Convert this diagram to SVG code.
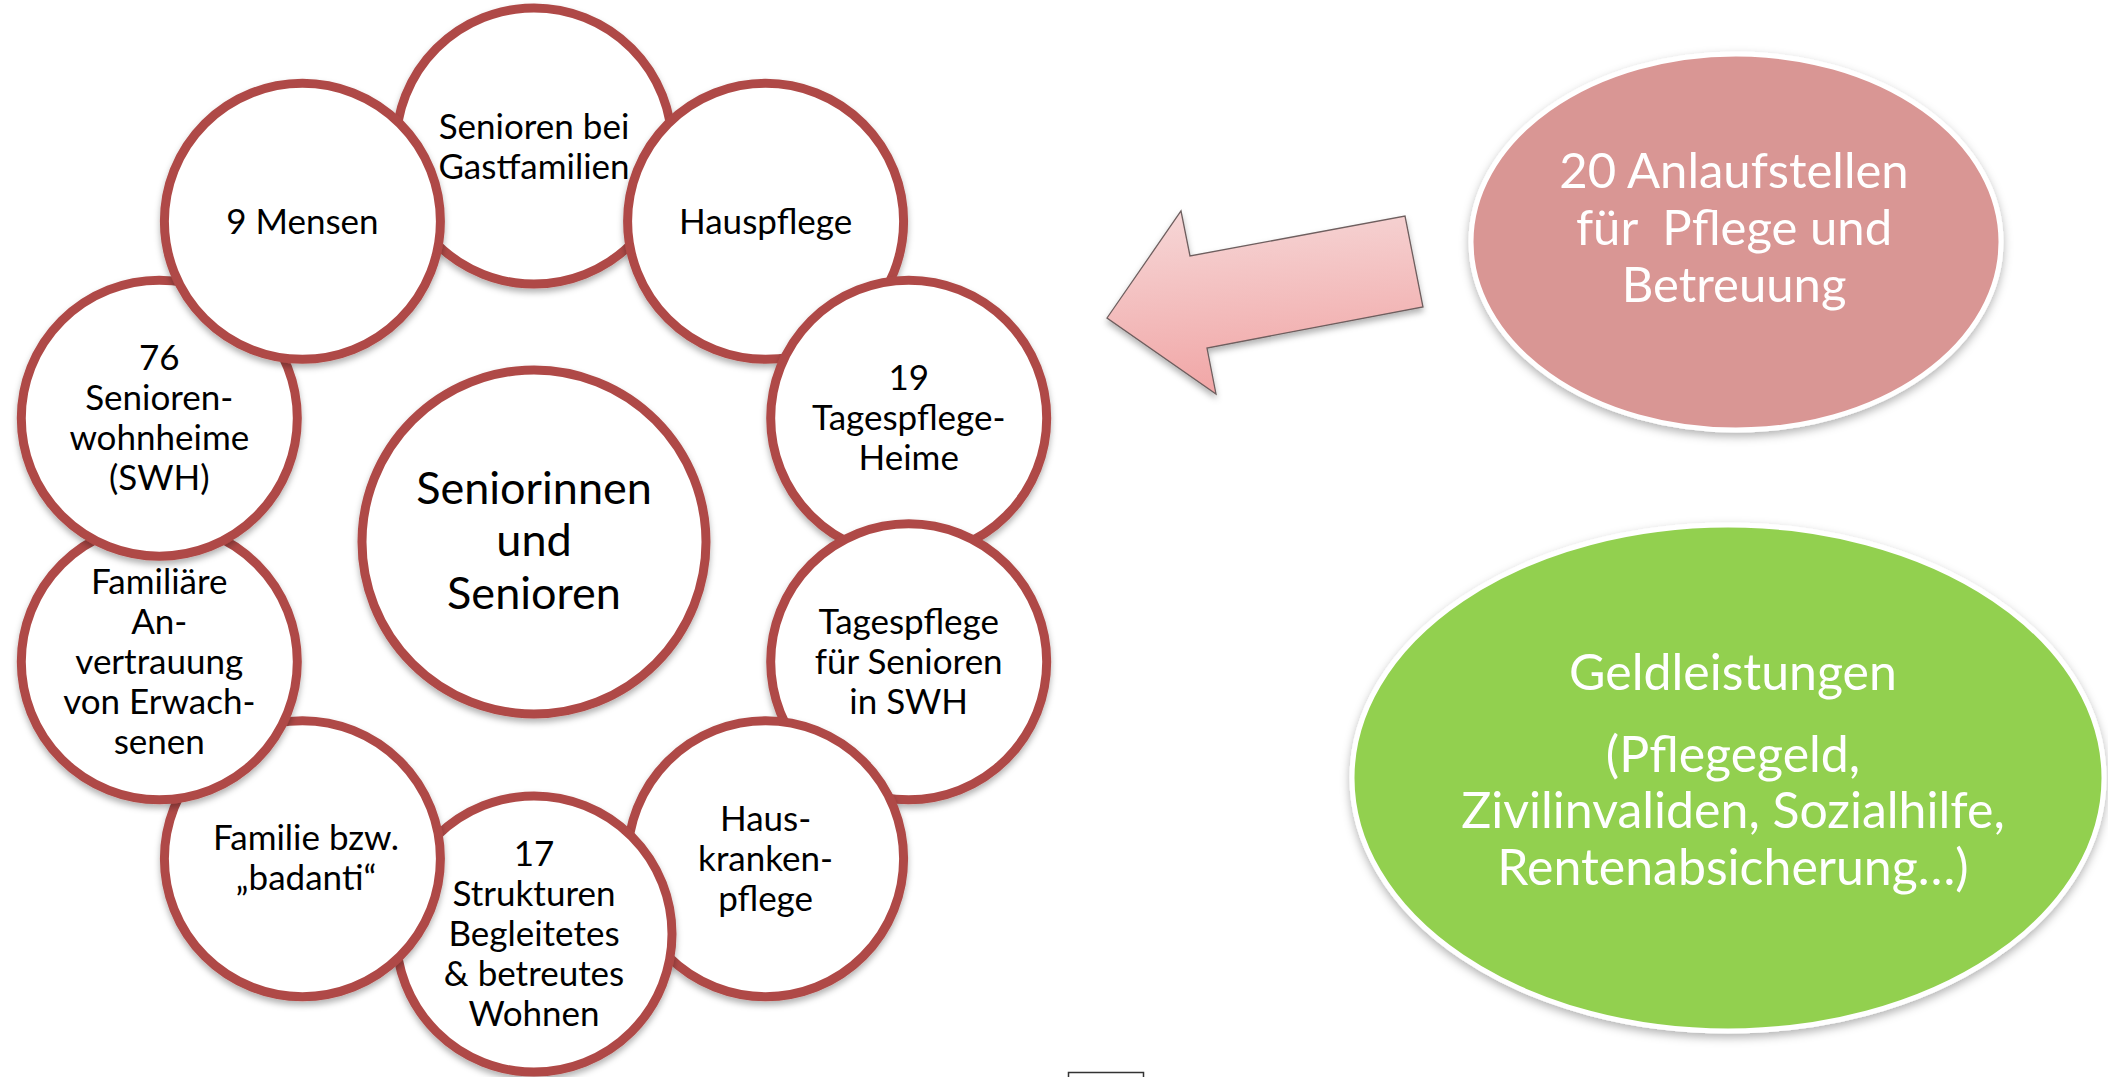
<svg xmlns="http://www.w3.org/2000/svg" width="2108" height="1077" viewBox="0 0 2108 1077">
<defs>
<style>
.ring{fill:#ffffff;stroke:#AF4A47;stroke-width:9;filter:url(#sh)}
.t{font-family:Lato,"Liberation Sans",sans-serif;font-size:35px;fill:#000000;text-anchor:middle}
.tc{font-family:Lato,"Liberation Sans",sans-serif;font-size:45px;fill:#000000;text-anchor:middle}
.tw{font-family:Lato,"Liberation Sans",sans-serif;font-size:49px;fill:#ffffff;text-anchor:middle}
.tg{font-family:Lato,"Liberation Sans",sans-serif;font-size:50px;fill:#ffffff;text-anchor:middle}
</style>
<filter id="sh" x="-20%" y="-20%" width="140%" height="140%">
<feDropShadow dx="0" dy="4" stdDeviation="3" flood-color="#000" flood-opacity="0.3"/>
</filter>
<filter id="sh2" x="-20%" y="-20%" width="140%" height="140%">
<feDropShadow dx="0" dy="4" stdDeviation="5" flood-color="#000" flood-opacity="0.3"/>
</filter>
<linearGradient id="ag" x1="0" y1="0" x2="0.15" y2="1">
<stop offset="0" stop-color="#F6D8D8"/>
<stop offset="1" stop-color="#F1A7A7"/>
</linearGradient>
</defs>
<rect width="2108" height="1077" fill="#ffffff"/>

<g id="center">
<circle class="ring" cx="534" cy="542" r="172"/>
<text class="tc" x="534" y="504">Seniorinnen</text>
<text class="tc" x="534" y="556">und</text>
<text class="tc" x="534" y="609">Senioren</text>
</g>

<g id="n1">
<circle class="ring" cx="534" cy="146" r="138"/>
<text class="t" x="534" y="139">Senioren bei</text>
<text class="t" x="534" y="179">Gastfamilien</text>
</g>
<g id="n2">
<circle class="ring" cx="765.6" cy="221.3" r="138"/>
<text class="t" x="765.6" y="234">Hauspflege</text>
</g>
<g id="n3">
<circle class="ring" cx="908.7" cy="418.2" r="138"/>
<text class="t" x="908.7" y="390">19</text>
<text class="t" x="908.7" y="430">Tagespflege-</text>
<text class="t" x="908.7" y="470">Heime</text>
</g>
<g id="n4">
<circle class="ring" cx="908.7" cy="661.8" r="138"/>
<text class="t" x="908.7" y="634">Tagespflege</text>
<text class="t" x="908.7" y="674">für Senioren</text>
<text class="t" x="908.7" y="714">in SWH</text>
</g>
<g id="n5">
<circle class="ring" cx="765.6" cy="858.7" r="138"/>
<text class="t" x="765.6" y="831">Haus-</text>
<text class="t" x="765.6" y="871">kranken-</text>
<text class="t" x="765.6" y="911">pflege</text>
</g>
<g id="n6">
<circle class="ring" cx="534" cy="934" r="138"/>
<text class="t" x="534" y="866">17</text>
<text class="t" x="534" y="906">Strukturen</text>
<text class="t" x="534" y="946">Begleitetes</text>
<text class="t" x="534" y="986">&amp; betreutes</text>
<text class="t" x="534" y="1026">Wohnen</text>
</g>
<g id="n7">
<circle class="ring" cx="302.4" cy="858.7" r="138"/>
<text class="t" x="306" y="850">Familie bzw.</text>
<text class="t" x="306" y="890">„badanti“</text>
</g>
<g id="n8">
<circle class="ring" cx="159.3" cy="661.8" r="138"/>
<text class="t" x="159.3" y="594">Familiäre</text>
<text class="t" x="159.3" y="634">An-</text>
<text class="t" x="159.3" y="674">vertrauung</text>
<text class="t" x="159.3" y="714">von Erwach-</text>
<text class="t" x="159.3" y="754">senen</text>
</g>
<g id="n9">
<circle class="ring" cx="159.3" cy="418.2" r="138"/>
<text class="t" x="159.3" y="370">76</text>
<text class="t" x="159.3" y="410">Senioren-</text>
<text class="t" x="159.3" y="450">wohnheime</text>
<text class="t" x="159.3" y="490">(SWH)</text>
</g>
<g id="n10">
<circle class="ring" cx="302.4" cy="221.3" r="138"/>
<text class="t" x="302.4" y="234">9 Mensen</text>
</g>

<g id="connectors">
<path d="M1107,318 L1181,211 L1190,256 L1405,216 L1423,307 L1207,348 L1216,394 Z" fill="url(#ag)" stroke="#6E5E5E" stroke-width="1.3" stroke-linejoin="miter" filter="url(#sh)"/>
</g>

<g id="anlauf">
<ellipse cx="1736" cy="242" rx="265" ry="188" fill="#D99694" stroke="#ffffff" stroke-width="5" filter="url(#sh2)"/>
<text class="tw" x="1734" y="188">20 Anlaufstellen</text>
<text class="tw" x="1734" y="245" xml:space="preserve">für  Pflege und</text>
<text class="tw" x="1734" y="302">Betreuung</text>
</g>

<g id="geld">
<ellipse cx="1728" cy="778" rx="376" ry="253" fill="#92D050" stroke="#ffffff" stroke-width="5" filter="url(#sh2)"/>
<text class="tg" x="1733" y="690">Geldleistungen</text>
<text class="tg" x="1733" y="772">(Pflegegeld,</text>
<text class="tg" x="1733" y="828">Zivilinvaliden, Sozialhilfe,</text>
<text class="tg" x="1733" y="885">Rentenabsicherung…)</text>
</g>

<rect x="1068.5" y="1072.5" width="75" height="20" fill="#ffffff" stroke="#333333" stroke-width="1.5"/>
</svg>
